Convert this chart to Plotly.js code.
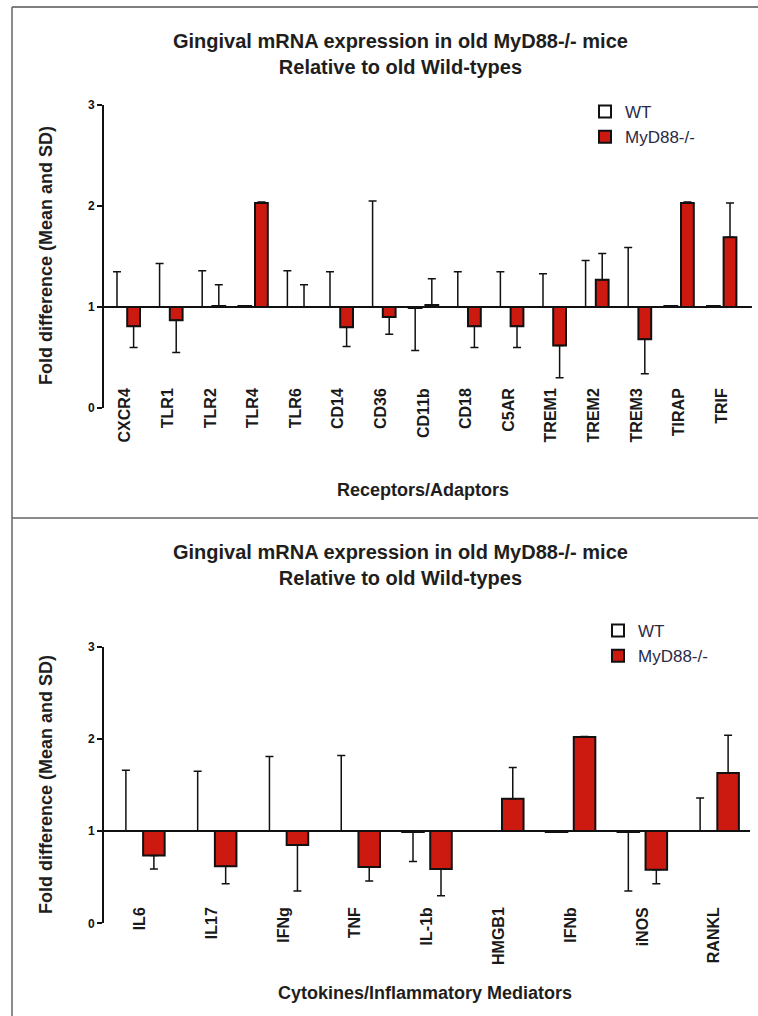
<!DOCTYPE html>
<html>
<head>
<meta charset="utf-8">
<script src="https://cdn.plot.ly/plotly-3.0.1.min.js"></script>
<style>
  html, body { margin: 0; padding: 0; background: #ffffff; }
  #chart { width: 758px; height: 1016px; }
</style>
</head>
<body>
<div id="chart"></div>
<script>
// ---------- data ----------
const chartTitle = "Gingival mRNA expression in old MyD88-/- mice<br>Relative to old Wild-types";
const seriesNames = ["WT", "MyD88-/-"];

const receptorCategories = ["CXCR4", "TLR1", "TLR2", "TLR4", "TLR6", "CD14", "CD36", "CD11b",
                            "CD18", "C5AR", "TREM1", "TREM2", "TREM3", "TIRAP", "TRIF"];
const receptorWT      = [1.00, 1.00, 1.00, 1.01, 1.00, 1.00, 1.00, 0.99, 1.00, 1.00, 1.00, 1.00, 1.00, 1.01, 1.01];
const receptorWTsd    = [0.35, 0.43, 0.36, 0.00, 0.36, 0.35, 1.05, 0.42, 0.35, 0.35, 0.33, 0.46, 0.59, 0.00, 0.00];
const receptorKO      = [0.81, 0.87, 1.01, 2.03, 1.00, 0.80, 0.90, 1.02, 0.81, 0.81, 0.62, 1.27, 0.68, 2.03, 1.69];
const receptorKOsd    = [0.21, 0.32, 0.21, 0.01, 0.22, 0.19, 0.17, 0.26, 0.21, 0.21, 0.32, 0.26, 0.34, 0.01, 0.34];

const cytokineCategories = ["IL6", "IL17", "IFNg", "TNF", "IL-1b", "HMGB1", "IFNb", "iNOS", "RANKL"];
const cytokineWT      = [1.00, 1.00, 1.00, 1.00, 0.99, 1.00, 0.99, 0.99, 1.00];
const cytokineWTsd    = [0.66, 0.65, 0.81, 0.82, 0.32, 0.00, 0.00, 0.64, 0.36];
const cytokineKO      = [0.735, 0.62, 0.85, 0.61, 0.59, 1.35, 2.02, 0.58, 1.63];
const cytokineKOsd    = [0.145, 0.19, 0.50, 0.15, 0.29, 0.34, 0.005, 0.15, 0.41];

const yTickValues = [0, 1, 2, 3];
const xTitleTop = "Receptors/Adaptors";
const xTitleBottom = "Cytokines/Inflammatory Mediators";
const yTitle = "Fold difference (Mean and SD)";

// ---------- helpers ----------
const BASE = 1;
const FONT = "Arial, 'Liberation Sans', Helvetica, sans-serif";

function barTrace(cats, vals, sds, name, fill, xa, ya, legendId) {
  return {
    type: "bar",
    name: name,
    x: cats,
    y: vals.map(v => v - BASE),
    base: BASE,
    xaxis: xa,
    yaxis: ya,
    legend: legendId,
    showlegend: true,
    textposition: "none",
    marker: { color: fill, line: { color: "#111111", width: 2 } },
    error_y: {
      type: "data",
      symmetric: false,
      array: vals.map((v, i) => (v >= BASE ? sds[i] : 0)),
      arrayminus: vals.map((v, i) => (v < BASE ? sds[i] : 0)),
      color: "#111111",
      thickness: 1.5,
      width: 4
    },
    hoverinfo: "x+name"
  };
}

const traces = [
  barTrace(receptorCategories, receptorWT, receptorWTsd, seriesNames[0], "#ffffff", "x", "y", "legend"),
  barTrace(receptorCategories, receptorKO, receptorKOsd, seriesNames[1], "#cc1a10", "x", "y", "legend"),
  barTrace(cytokineCategories, cytokineWT, cytokineWTsd, seriesNames[0], "#ffffff", "x2", "y2", "legend2"),
  barTrace(cytokineCategories, cytokineKO, cytokineKOsd, seriesNames[1], "#cc1a10", "x2", "y2", "legend2")
];

const W = 758, H = 1016;
const px = v => v / W;            // pixel x -> paper
const py = v => 1 - v / H;        // pixel y -> paper

function yAxis(domTopPx, domBotPx, anchor) {
  return {
    domain: [py(domBotPx), py(domTopPx)],
    range: [0, 3],
    anchor: anchor,
    tickvals: yTickValues,
    ticktext: yTickValues.map(String),
    ticks: "outside",
    ticklen: 5,
    tickwidth: 2,
    tickcolor: "#111111",
    showline: true,
    linewidth: 2,
    linecolor: "#111111",
    showgrid: false,
    zeroline: false,
    tickfont: { family: FONT, size: 12, color: "#111111", weight: 700 },
    fixedrange: true
  };
}

function xAxis(cats, domL, domR, posPx) {
  return {
    type: "category",
    categoryorder: "array",
    categoryarray: cats,
    domain: [px(domL), px(domR)],
    range: [-0.5, cats.length - 0.5],
    anchor: "free",
    position: py(posPx),
    showline: false,
    ticks: "",
    showgrid: false,
    zeroline: false,
    tickangle: -90,
    tickfont: { family: FONT, size: 16, color: "#1a1a1a", weight: 700 },
    fixedrange: true
  };
}

const layout = {
  width: W,
  height: H,
  margin: { l: 0, r: 0, t: 0, b: 0 },
  paper_bgcolor: "#ffffff",
  plot_bgcolor: "rgba(0,0,0,0)",
  barmode: "group",
  bargap: 0.22,
  bargroupgap: 0.23,
  font: { family: FONT, color: "#1a1a1a" },
  xaxis: xAxis(receptorCategories, 104, 743, 384),
  yaxis: yAxis(105, 408, "x"),
  xaxis2: xAxis(cytokineCategories, 104, 750, 903),
  yaxis2: yAxis(646.7, 923.3, "x2"),
  legend: {
    x: px(585), y: py(94), xanchor: "left", yanchor: "top",
    font: { family: FONT, size: 17, color: "#2a2a48" },
    bgcolor: "rgba(0,0,0,0)",
    itemwidth: 30,
    tracegroupgap: 0,
    traceorder: "normal"
  },
  legend2: {
    x: px(598), y: py(613), xanchor: "left", yanchor: "top",
    font: { family: FONT, size: 17, color: "#2a2a48" },
    bgcolor: "rgba(0,0,0,0)",
    itemwidth: 30,
    tracegroupgap: 0,
    traceorder: "normal"
  },
  annotations: [
    { text: chartTitle, xref: "paper", yref: "paper", x: px(400), y: py(54), xanchor: "center", yanchor: "middle",
      showarrow: false, font: { family: FONT, size: 20, color: "#1e1e1e", weight: 700 } },
    { text: chartTitle, xref: "paper", yref: "paper", x: px(400), y: py(565), xanchor: "center", yanchor: "middle",
      showarrow: false, font: { family: FONT, size: 20, color: "#1e1e1e", weight: 700 } },
    { text: xTitleTop, xref: "paper", yref: "paper", x: px(423), y: py(490), xanchor: "center", yanchor: "middle",
      showarrow: false, font: { family: FONT, size: 18, color: "#1e1e1e", weight: 700 } },
    { text: xTitleBottom, xref: "paper", yref: "paper", x: px(425), y: py(993), xanchor: "center", yanchor: "middle",
      showarrow: false, font: { family: FONT, size: 18, color: "#1e1e1e", weight: 700 } },
    { text: yTitle, xref: "paper", yref: "paper", x: px(46), y: py(256), xanchor: "center", yanchor: "middle",
      textangle: -90, showarrow: false, font: { family: FONT, size: 18, color: "#1e1e1e", weight: 700 } },
    { text: yTitle, xref: "paper", yref: "paper", x: px(46), y: py(785), xanchor: "center", yanchor: "middle",
      textangle: -90, showarrow: false, font: { family: FONT, size: 18, color: "#1e1e1e", weight: 700 } }
  ],
  shapes: [
    // baselines at fold difference = 1
    { type: "line", xref: "x domain", yref: "y", x0: 0, x1: 1.014, y0: BASE, y1: BASE,
      line: { color: "#111111", width: 2 }, layer: "below" },
    { type: "line", xref: "x2 domain", yref: "y2", x0: 0, x1: 1, y0: BASE, y1: BASE,
      line: { color: "#111111", width: 2 }, layer: "below" },
    // panel frame
    { type: "line", xref: "paper", yref: "paper", x0: px(12), x1: 1, y0: py(7), y1: py(7),
      line: { color: "#555555", width: 1.5 } },
    { type: "line", xref: "paper", yref: "paper", x0: px(12), x1: px(12), y0: py(7), y1: 0,
      line: { color: "#666666", width: 1.5 } },
    { type: "line", xref: "paper", yref: "paper", x0: px(12), x1: 1, y0: py(518), y1: py(518),
      line: { color: "#666666", width: 1.5 } }
  ]
};

Plotly.newPlot("chart", traces, layout, { displayModeBar: false, staticPlot: true });
</script>
</body>
</html>
